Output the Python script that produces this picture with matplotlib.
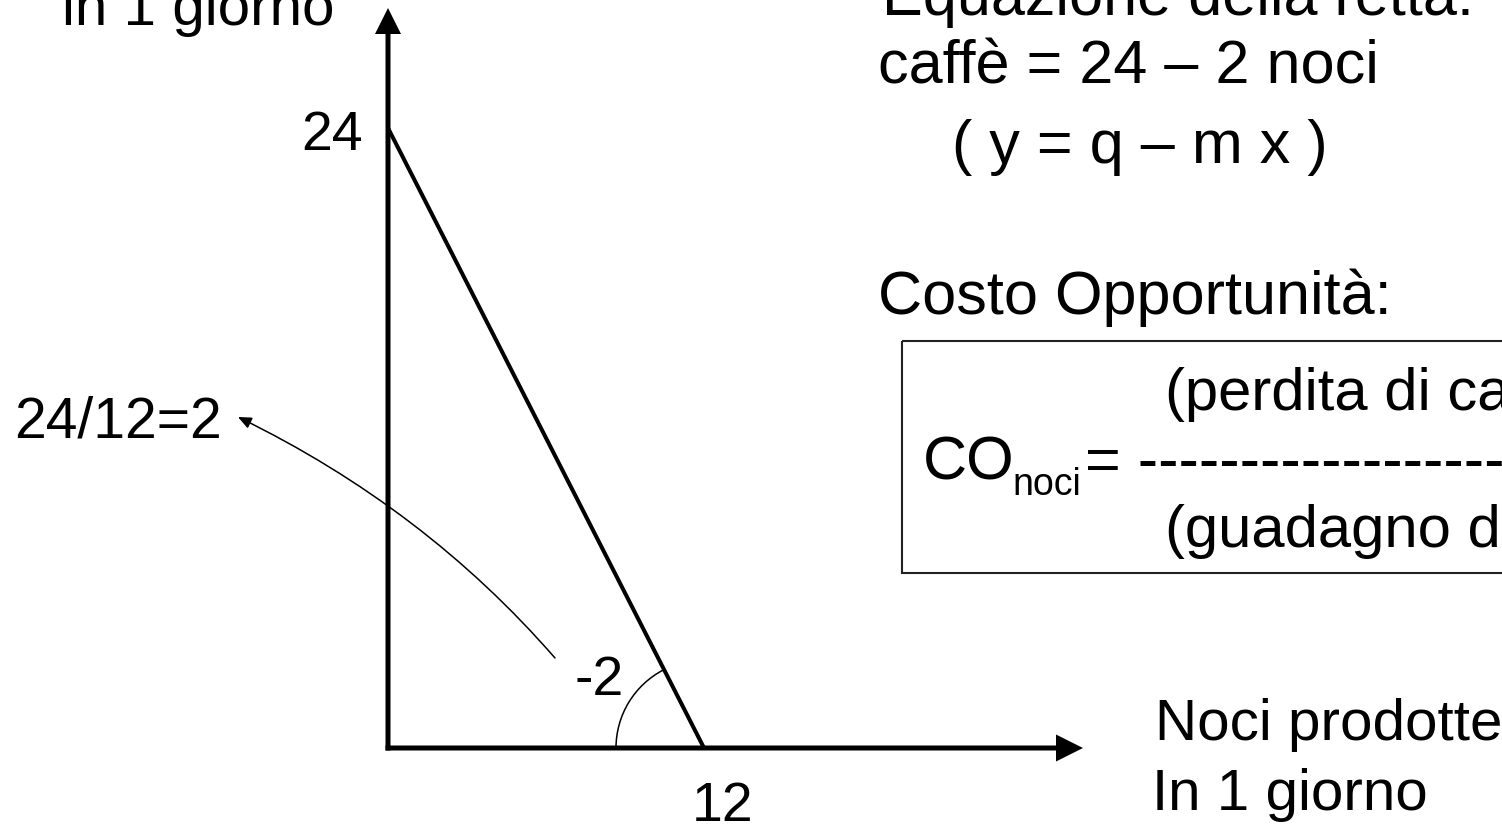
import numpy as np
import matplotlib
matplotlib.use("Agg")
import matplotlib.pyplot as plt
from matplotlib.patches import Arc, Rectangle
from matplotlib.transforms import Affine2D

plt.rcParams['font.family'] = ['Liberation Sans', 'DejaVu Sans']

# Frontiera: noci (asse x) e caffè (asse y) prodotti in un giorno
noci = [0, 12]
caffe = [24, 0]
pendenza = -2
etichetta_y = "24"
etichetta_x = "12"

W, H = 1502, 827
fig = plt.figure(figsize=(W / 100, H / 100), dpi=100)

# trasformazione in pixel con origine in alto a sinistra
px = Affine2D().scale(1 / W, -1 / H).translate(0, 1) + fig.transFigure

# asse del grafico sull'intera figura, scala fissata da origine e intercette
ox, oy = 388, 748          # origine in pixel
sx = (704 - ox) / noci[1]  # pixel per unità su x
sy = (oy - 128) / caffe[0] # pixel per unità su y
ax = fig.add_axes([0, 0, 1, 1])
ax.set_xlim(-ox / sx, (W - ox) / sx)
ax.set_ylim(-(H - oy) / sy, oy / sy)
ax.axis('off')

# assi con frecce
x_tip = (1083 - ox) / sx
y_tip = (oy - 8) / sy
ax.arrow(-2.5 / sx, 0, x_tip + 2.5 / sx, 0, width=5 / sy, head_width=27 / sy,
         head_length=27 / sx, length_includes_head=True, fc='black', lw=0,
         clip_on=False)
ax.arrow(0, -2.5 / sy, 0, y_tip + 2.5 / sy, width=5 / sx, head_width=26 / sx,
         head_length=26 / sy, length_includes_head=True, fc='black', lw=0,
         clip_on=False)

# retta
ax.plot(noci, caffe, color='black', lw=2.9, solid_capstyle='butt')

# angolo alla intercetta
ang = np.degrees(np.arctan2(caffe[0] * sy, -noci[1] * sx))
ax.add_patch(Arc((noci[1], 0), 2 * 88 / sx, 2 * 88 / sy, theta1=ang, theta2=180,
                 color='black', lw=1.1))

# etichette sugli assi
ax.annotate(etichetta_y, xy=(0, caffe[0]), xytext=(-25, -22),
            textcoords='offset pixels', ha='right', va='baseline', fontsize=40)
ax.annotate(etichetta_x, xy=(noci[1], 0), xytext=(19, -73),
            textcoords='offset pixels', ha='center', va='baseline', fontsize=40)
ax.annotate(str(pendenza), xy=(noci[1], 0), xytext=(-129, 53),
            textcoords='offset pixels', ha='left', va='baseline', fontsize=40)

# freccia curva verso 24/12=2
fig.text(14, 438, "24/12=2", transform=px, va='baseline', fontsize=41)
ax.annotate('', xy=(238, 417), xycoords=px, xytext=(555, 658), textcoords=px,
            arrowprops=dict(arrowstyle='-|>,head_length=0.8,head_width=0.35',
                            connectionstyle='angle3,angleA=131,angleB=154',
                            color='black', lw=1.1, shrinkA=0, shrinkB=0,
                            mutation_scale=10))

# testi
fig.text(62, 25, "in 1 giorno", transform=px, va='baseline', fontsize=42)
fig.text(1155, 740, "Noci prodotte", transform=px, va='baseline', fontsize=42)
fig.text(1152, 810, "In 1 giorno", transform=px, va='baseline', fontsize=42)

fig.text(882, 15, "Equazione della retta:", transform=px, va='baseline', fontsize=44)
fig.text(878, 84, "caffè = 24 – 2 noci", transform=px, va='baseline', fontsize=44)
fig.text(952, 163, "( y = q – m x )", transform=px, va='baseline', fontsize=44)
fig.text(878, 314, "Costo Opportunità:", transform=px, va='baseline', fontsize=44)

# riquadro costo opportunità
fig.add_artist(Rectangle((902, 341), 700, 232, transform=px, fill=False,
                         edgecolor='#222222', lw=1.5))
fig.text(1165, 410, "(perdita di caffè)", transform=px, va='baseline', fontsize=43)
fig.text(923, 480, "CO", transform=px, va='baseline', fontsize=44)
fig.text(1012, 495, "noci", transform=px, va='baseline', fontsize=27)
fig.text(1085, 480, "= " + "-" * 20, transform=px, va='baseline', fontsize=44)
fig.text(1165, 547, "(guadagno di noci)", transform=px, va='baseline', fontsize=43)

fig.savefig('out.png', dpi=100)
